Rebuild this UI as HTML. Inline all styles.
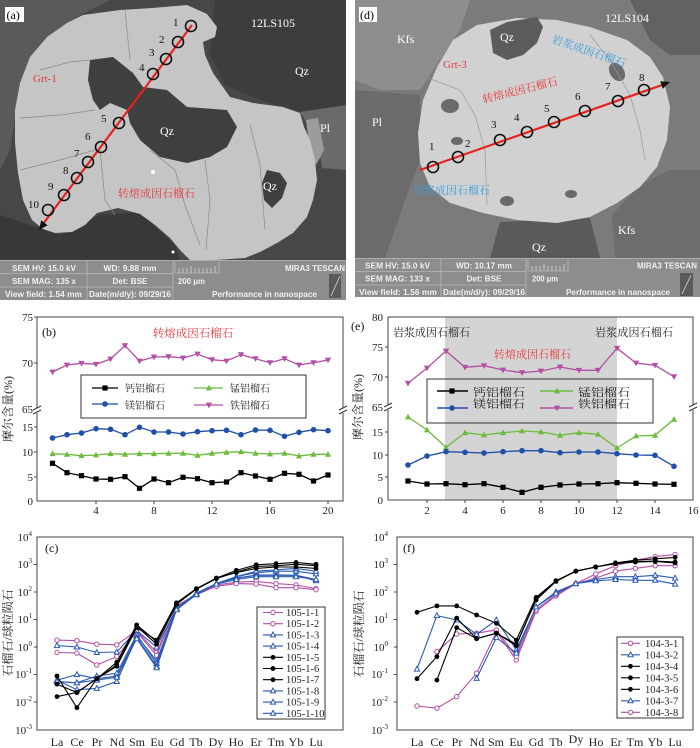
<!DOCTYPE html>
<html><head><meta charset="utf-8"><style>
html,body{margin:0;padding:0;background:#fff}
svg{display:block}
.ser{font-family:"Liberation Serif","Noto Serif CJK SC",serif}
.ib{font-family:"Liberation Sans",sans-serif;font-weight:bold;font-size:8px;fill:#f2f2f2}
.pl{fill:none}
</style></head><body>
<svg width="700" height="748" viewBox="0 0 700 748" xmlns="http://www.w3.org/2000/svg">
<defs>
<marker id="mSq" viewBox="-4 -4 8 8" markerWidth="8" markerHeight="8" refX="0" refY="0" markerUnits="userSpaceOnUse" orient="0"><rect x="-2.6" y="-2.6" width="5.2" height="5.2" fill="#000"/></marker>
<marker id="mCb" viewBox="-4 -4 8 8" markerWidth="8" markerHeight="8" refX="0" refY="0" markerUnits="userSpaceOnUse" orient="0"><circle r="2.8" fill="#1f4fa8"/></marker>
<marker id="mTg" viewBox="-4 -4 8 8" markerWidth="8" markerHeight="8" refX="0" refY="0" markerUnits="userSpaceOnUse" orient="0"><polygon points="0,-3.2 3.1,2.4 -3.1,2.4" fill="#6cbb3c"/></marker>
<marker id="mTm" viewBox="-4 -4 8 8" markerWidth="8" markerHeight="8" refX="0" refY="0" markerUnits="userSpaceOnUse" orient="0"><polygon points="0,3.2 3.2,-2.4 -3.2,-2.4" fill="#b34fa5"/></marker>
<marker id="mOc" viewBox="-4 -4 8 8" markerWidth="8" markerHeight="8" refX="0" refY="0" markerUnits="userSpaceOnUse" orient="0"><circle r="2.2" fill="#fff" stroke="#b34fa5" stroke-width="1"/></marker>
<marker id="mOt" viewBox="-4 -4 8 8" markerWidth="8" markerHeight="8" refX="0" refY="0" markerUnits="userSpaceOnUse" orient="0"><polygon points="0,-2.8 2.6,2 -2.6,2" fill="#fff" stroke="#2a5ab5" stroke-width="1"/></marker>
<marker id="mBc" viewBox="-4 -4 8 8" markerWidth="8" markerHeight="8" refX="0" refY="0" markerUnits="userSpaceOnUse" orient="0"><circle r="2.4" fill="#000"/></marker>
<clipPath id="cpA"><rect x="0" y="0" width="346" height="300"/></clipPath>
<clipPath id="cpD"><rect x="355" y="0" width="345" height="297"/></clipPath>
</defs>

<!-- ================= PANEL (a) ================= -->
<g clip-path="url(#cpA)">
<rect x="0" y="0" width="346" height="300" fill="#474747"/>
<polygon points="0,0 110,0 80,15 40,45 20,85 10,150 0,170" fill="#5a5a5a"/>
<polygon points="215,0 346,0 346,110 300,112 260,100 225,85 210,55 212,30" fill="#3d3d3d"/>
<polygon points="300,112 346,105 346,170 322,168 318,140" fill="#6a6a6a"/>
<polygon points="306,120 318,118 324,150 316,165 310,150" fill="#9c9c9c"/>
<polygon points="0,215 60,235 100,215 140,212 175,245 180,260 0,260" fill="#383838"/>
<polygon points="83,15 120,10 152,8 187,5 207,14 217,27 215,37 203,42 205,55 213,73 230,97 253,103 283,107 300,113 304,127 310,140 315,160 317,180 313,200 307,217 293,233 277,243 260,252 245,258 215,260 190,260 180,250 170,238 155,225 140,214 118,208 97,213 85,225 72,232 55,233 43,229 32,220 23,200 18,173 15,143 15,110 20,83 30,57 47,37 67,23" fill="#c5c5c5"/>
<polygon points="90,60 113,57 133,73 143,87 167,90 187,107 227,110 237,127 227,147 210,157 187,163 160,157 140,140 130,123 127,110 110,103 100,110 93,100 88,80" fill="#3f3f3f"/>
<polygon points="267,170 280,173 287,183 282,198 272,208 264,200 262,183" fill="#3f3f3f"/>
<g stroke="#8a8a8a" stroke-width="0.7" fill="none">
<path d="M125,10 L130,60 M95,110 L60,115 L20,118 M100,150 L105,200 L115,215 M150,150 L175,170 L185,205 L200,245 M250,125 L260,165 L265,230 M205,160 L210,200 L206,250 M40,70 L70,62 L90,60 M20,170 L60,160 L95,150"/>
</g>
<circle cx="153" cy="172" r="2" fill="#fff"/>
<circle cx="173" cy="252" r="1.5" fill="#fff"/>
<line x1="192" y1="25" x2="43" y2="224" stroke="#e8211d" stroke-width="2.2"/>
<polygon points="39,230 47.6,225.2 41.2,220.4" fill="#111"/>
<g fill="none" stroke="#111" stroke-width="1.6">
<circle cx="191" cy="26" r="5.5"/><circle cx="178" cy="42" r="5.5"/><circle cx="166" cy="59" r="5.5"/><circle cx="153" cy="74" r="5.5"/><circle cx="119" cy="123" r="5.5"/><circle cx="101" cy="147" r="5.5"/><circle cx="88" cy="162" r="5.5"/><circle cx="77" cy="178" r="5.5"/><circle cx="64" cy="195" r="5.5"/><circle cx="48" cy="210" r="5.5"/>
</g>
<g class="ser" font-size="11" fill="#111">
<text x="173" y="26">1</text><text x="159" y="43">2</text><text x="149" y="56">3</text><text x="139" y="71">4</text><text x="101" y="122">5</text><text x="85" y="140">6</text><text x="74" y="157">7</text><text x="63" y="174">8</text><text x="48" y="190">9</text><text x="28" y="208">10</text>
</g>
<g class="ser" font-size="12" fill="#fff">
<text x="251" y="27">12LS105</text>
<text x="295" y="75">Qz</text>
<text x="160" y="135">Qz</text>
<text x="320" y="132">Pl</text>
<text x="263" y="190">Qz</text>
</g>
<text class="ser" x="33" y="82" font-size="11" fill="#e8383d">Grt-1</text>
<text class="ser" x="118" y="197" font-size="11" fill="#e8383d" textLength="77">转熔成因石榴石</text>
<rect x="5" y="7" width="19" height="15" fill="#fff"/>
<text class="ser" x="6.5" y="19" font-size="12" fill="#000">(a)</text>
<rect x="0" y="260" width="346" height="40" fill="#8d8d8d"/>
<g stroke="#b8b8b8" stroke-width="0.8" fill="none">
<line x1="0" y1="273.5" x2="173" y2="273.5"/><line x1="0" y1="287" x2="173" y2="287"/>
<line x1="87" y1="260" x2="87" y2="300"/><line x1="173" y1="260" x2="173" y2="300"/>
<line x1="0" y1="260.5" x2="346" y2="260.5"/>
<polyline points="175,262 175,273 219,273 219,262"/>
</g>
<g stroke="#e0e0e0" stroke-width="0.7">
<line x1="179" y1="268" x2="179" y2="273"/><line x1="183" y1="268" x2="183" y2="273"/><line x1="187" y1="268" x2="187" y2="273"/><line x1="191" y1="266" x2="191" y2="273"/><line x1="195" y1="268" x2="195" y2="273"/><line x1="199" y1="268" x2="199" y2="273"/><line x1="203" y1="268" x2="203" y2="273"/><line x1="207" y1="268" x2="207" y2="273"/><line x1="211" y1="268" x2="211" y2="273"/><line x1="215" y1="266" x2="215" y2="273"/>
</g>
<rect x="329" y="274" width="12" height="24" fill="#5a5a5a"/>
<line x1="331" y1="296" x2="340" y2="276" stroke="#ddd" stroke-width="0.8"/>
<g class="ib" text-anchor="middle">
<text x="44" y="271" textLength="64" lengthAdjust="spacingAndGlyphs">SEM HV: 15.0 kV</text>
<text x="130" y="271" textLength="53" lengthAdjust="spacingAndGlyphs">WD: 9.88 mm</text>
<text x="44" y="284" textLength="64" lengthAdjust="spacingAndGlyphs">SEM MAG: 135 x</text>
<text x="130" y="284" textLength="35" lengthAdjust="spacingAndGlyphs">Det: BSE</text>
<text x="43.5" y="297" textLength="77" lengthAdjust="spacingAndGlyphs">View field: 1.54 mm</text>
<text x="130" y="297" textLength="82" lengthAdjust="spacingAndGlyphs">Date(m/d/y): 09/29/16</text>
</g>
<text class="ib" x="178" y="284" textLength="27" lengthAdjust="spacingAndGlyphs">200 μm</text>
<text class="ib" x="345" y="271" text-anchor="end" textLength="60" lengthAdjust="spacingAndGlyphs">MIRA3 TESCAN</text>
<text class="ib" x="212" y="297" textLength="105" lengthAdjust="spacingAndGlyphs">Performance in nanospace</text>
</g>

<!-- ================= PANEL (d) ================= -->
<g clip-path="url(#cpD)">
<rect x="355" y="0" width="345" height="297" fill="#7b7b7b"/>
<polygon points="355,0 470,0 460,30 440,60 420,90 380,90 355,80" fill="#8e8e8e"/>
<polygon points="355,90 420,95 420,160 405,200 385,258 355,258" fill="#6b6b6b"/>
<polygon points="630,0 700,0 700,55 670,55 650,40" fill="#626262"/>
<polygon points="640,185 670,170 700,170 700,258 615,258 612,215" fill="#6d6d6d"/>
<polygon points="500,222 590,218 600,258 490,258" fill="#5a5a5a"/>
<polygon points="477,25 517,18 557,20 590,27 627,40 650,57 663,77 670,107 667,140 657,167 640,187 617,203 590,217 557,223 517,220 483,213 450,203 430,187 420,163 418,133 423,100 437,67 453,40" fill="#d1d1d1"/>
<polygon points="490,30 507,22 537,17 543,27 537,43 523,55 507,60 493,53" fill="#5c5c5c"/>
<ellipse cx="450" cy="106" rx="9" ry="7" fill="#6a6a6a"/>
<ellipse cx="457" cy="141" rx="6" ry="4" fill="#6a6a6a"/>
<ellipse cx="617" cy="72" rx="7" ry="10" transform="rotate(-35 617 72)" fill="#6a6a6a"/>
<ellipse cx="571" cy="194" rx="6" ry="4" fill="#6a6a6a"/>
<ellipse cx="507" cy="201" rx="7" ry="5" fill="#6a6a6a"/>
<g stroke="#9a9a9a" stroke-width="0.7" fill="none">
<path d="M428,78 L460,90 L475,115 L485,150 L487,205 M590,35 L610,60 L630,95 L640,130 L645,160"/>
</g>
<line x1="420" y1="170" x2="665" y2="84" stroke="#e8211d" stroke-width="2.2"/>
<polygon points="670,82 662.8,88.8 660.2,81.2" fill="#111"/>
<g fill="none" stroke="#111" stroke-width="1.6">
<circle cx="433" cy="167" r="5.5"/><circle cx="458" cy="157" r="5.5"/><circle cx="500" cy="140" r="5.5"/><circle cx="527" cy="132" r="5.5"/><circle cx="554" cy="122" r="5.5"/><circle cx="585" cy="111" r="5.5"/><circle cx="618" cy="101" r="5.5"/><circle cx="644" cy="90" r="5.5"/>
</g>
<g class="ser" font-size="11" fill="#111">
<text x="429" y="150">1</text><text x="465" y="147">2</text><text x="491" y="128">3</text><text x="514" y="121">4</text><text x="544" y="112">5</text><text x="575" y="100">6</text><text x="605" y="90">7</text><text x="639" y="81">8</text>
</g>
<g class="ser" font-size="12" fill="#fff">
<text x="605" y="22">12LS104</text>
<text x="397" y="43">Kfs</text>
<text x="500" y="41">Qz</text>
<text x="372" y="126">Pl</text>
<text x="618" y="234">Kfs</text>
<text x="532" y="251">Qz</text>
</g>
<text class="ser" x="443" y="68" font-size="11" fill="#e8383d">Grt-3</text>
<text class="ser" x="520" y="94" font-size="11" fill="#e8383d" text-anchor="middle" transform="rotate(-14 520 90)">转熔成因石榴石</text>
<text class="ser" x="589" y="55" font-size="11" fill="#3a9fe0" text-anchor="middle" transform="rotate(19 589 51)">岩浆成因石榴石</text>
<text class="ser" x="413" y="194" font-size="11" fill="#3a9fe0" textLength="77">岩浆成因石榴石</text>
<rect x="359" y="7" width="18" height="15" fill="#fff"/>
<text class="ser" x="360" y="19" font-size="12" fill="#000">(d)</text>
<rect x="355" y="258" width="345" height="39" fill="#8d8d8d"/>
<g stroke="#b8b8b8" stroke-width="0.8" fill="none">
<line x1="355" y1="271.5" x2="526" y2="271.5"/><line x1="355" y1="285" x2="526" y2="285"/>
<line x1="441" y1="258" x2="441" y2="297"/><line x1="526" y1="258" x2="526" y2="297"/>
<line x1="355" y1="258.5" x2="700" y2="258.5"/>
<polyline points="528,260 528,271 568,271 568,260"/>
</g>
<g stroke="#e0e0e0" stroke-width="0.7">
<line x1="532" y1="266" x2="532" y2="271"/><line x1="536" y1="266" x2="536" y2="271"/><line x1="540" y1="266" x2="540" y2="271"/><line x1="544" y1="264" x2="544" y2="271"/><line x1="548" y1="266" x2="548" y2="271"/><line x1="552" y1="266" x2="552" y2="271"/><line x1="556" y1="266" x2="556" y2="271"/><line x1="560" y1="266" x2="560" y2="271"/><line x1="564" y1="264" x2="564" y2="271"/>
</g>
<rect x="680" y="273" width="13" height="23" fill="#5a5a5a"/>
<line x1="682" y1="294" x2="691" y2="275" stroke="#ddd" stroke-width="0.8"/>
<g class="ib" text-anchor="middle">
<text x="397.5" y="268.5" textLength="65" lengthAdjust="spacingAndGlyphs">SEM HV: 15.0 kV</text>
<text x="484" y="268.5" textLength="56" lengthAdjust="spacingAndGlyphs">WD: 10.17 mm</text>
<text x="397.5" y="281.5" textLength="65" lengthAdjust="spacingAndGlyphs">SEM MAG: 133 x</text>
<text x="484" y="281.5" textLength="35" lengthAdjust="spacingAndGlyphs">Det: BSE</text>
<text x="398" y="295" textLength="78" lengthAdjust="spacingAndGlyphs">View field: 1.56 mm</text>
<text x="484" y="295" textLength="82" lengthAdjust="spacingAndGlyphs">Date(m/d/y): 09/29/16</text>
</g>
<text class="ib" x="532" y="281.5" textLength="26" lengthAdjust="spacingAndGlyphs">200 μm</text>
<text class="ib" x="697" y="268.5" text-anchor="end" textLength="60" lengthAdjust="spacingAndGlyphs">MIRA3 TESCAN</text>
<text class="ib" x="566" y="295" textLength="104" lengthAdjust="spacingAndGlyphs">Performance in nanospace</text>
</g>

<!-- ================= CHART (b) ================= -->
<g class="ser">
<rect x="37" y="317" width="306" height="184" fill="none" stroke="#444" stroke-width="1"/>
<g stroke="#444" stroke-width="1">
<line x1="34" y1="317" x2="37" y2="317"/><line x1="34" y1="363" x2="37" y2="363"/><line x1="34" y1="427" x2="37" y2="427"/><line x1="34" y1="452" x2="37" y2="452"/><line x1="34" y1="477" x2="37" y2="477"/>
<line x1="96" y1="501" x2="96" y2="504"/><line x1="154" y1="501" x2="154" y2="504"/><line x1="212" y1="501" x2="212" y2="504"/><line x1="270" y1="501" x2="270" y2="504"/><line x1="328" y1="501" x2="328" y2="504"/>
</g>
<rect x="33" y="408" width="8" height="5" fill="#fff"/>
<rect x="339" y="408" width="8" height="5" fill="#fff"/>
<g stroke="#333" stroke-width="1">
<line x1="33" y1="410" x2="41" y2="406"/><line x1="33" y1="414" x2="41" y2="410"/>
<line x1="339" y1="410" x2="347" y2="406"/><line x1="339" y1="414" x2="347" y2="410"/>
</g>
<g font-size="11" fill="#222" text-anchor="end">
<text x="33" y="321">75</text><text x="33" y="367">70</text><text x="33" y="413">65</text><text x="33" y="431">15</text><text x="33" y="456">10</text><text x="33" y="481">5</text><text x="33" y="505">0</text>
</g>
<g font-size="11" fill="#222" text-anchor="middle">
<text x="96" y="514">4</text><text x="154" y="514">8</text><text x="212" y="514">12</text><text x="270" y="514">16</text><text x="328" y="514">20</text>
</g>
<text x="42" y="336" font-size="12" fill="#111">(b)</text>
<text x="193" y="337" font-size="11.5" fill="#e8383d" text-anchor="middle">转熔成因石榴石</text>
<text transform="translate(12,409) rotate(-90)" font-size="12" fill="#222" text-anchor="middle">摩尔含量(%)</text>
<polyline class="pl" stroke="#b34fa5" stroke-width="1.3" marker-start="url(#mTm)" marker-mid="url(#mTm)" marker-end="url(#mTm)" points="52.5,372 67,365 81.5,363.3 96,364.3 110.5,359 125,345.7 139.5,361 154,357 168.5,356.7 183,358 197.5,354 212,359.7 226.5,361 241,354.7 255.5,358.7 270,362.7 284.5,358.7 299,365 313.5,362.7 328,360"/>
<polyline class="pl" stroke="#1f4fa8" stroke-width="1.3" marker-start="url(#mCb)" marker-mid="url(#mCb)" marker-end="url(#mCb)" points="52.5,438 67,434.7 81.5,433 96,428.7 110.5,429.3 125,434.7 139.5,427.3 154,432 168.5,432 183,434 197.5,431.7 212,430.7 226.5,430.3 241,434.7 255.5,430 270,430.3 284.5,436.3 299,432.3 313.5,429.7 328,430.7"/>
<polyline class="pl" stroke="#6cbb3c" stroke-width="1.3" marker-start="url(#mTg)" marker-mid="url(#mTg)" marker-end="url(#mTg)" points="52.5,453.7 67,454.3 81.5,455.7 96,455 110.5,453.7 125,454.3 139.5,453.7 154,453.7 168.5,453.3 183,453.3 197.5,455.3 212,453.3 226.5,452.3 241,451.7 255.5,453.3 270,454 284.5,453.3 299,456 313.5,454.3 328,454.3"/>
<polyline class="pl" stroke="#000" stroke-width="1.3" marker-start="url(#mSq)" marker-mid="url(#mSq)" marker-end="url(#mSq)" points="52.5,463.3 67,472.7 81.5,475.7 96,479 110.5,479.3 125,476.7 139.5,488.3 154,479 168.5,482.7 183,477.3 197.5,478.7 212,482.7 226.5,482 241,472.7 255.5,476 270,479.3 284.5,473.3 299,474.3 313.5,481 328,475"/>
<rect x="81" y="375" width="225" height="43" fill="none" stroke="#333" stroke-width="1"/>
<polyline class="pl" stroke="#000" stroke-width="1.3" marker-mid="url(#mSq)" points="92,388 105,388 118,388"/>
<polyline class="pl" stroke="#1f4fa8" stroke-width="1.3" marker-mid="url(#mCb)" points="92,404 105,404 118,404"/>
<polyline class="pl" stroke="#6cbb3c" stroke-width="1.3" marker-mid="url(#mTg)" points="194,388 209,388 223,388"/>
<polyline class="pl" stroke="#b34fa5" stroke-width="1.3" marker-mid="url(#mTm)" points="194,405 209,405 223,405"/>
<g font-size="10" fill="#222">
<text x="125" y="392">钙铝榴石</text><text x="125" y="409">镁铝榴石</text>
<text x="230" y="392">锰铝榴石</text><text x="230" y="409">铁铝榴石</text>
</g>
</g>

<!-- ================= CHART (e) ================= -->
<g class="ser">
<rect x="445" y="317" width="172" height="183" fill="#d4d4d4"/>
<rect x="388" y="317" width="305" height="183" fill="none" stroke="#444" stroke-width="1"/>
<g stroke="#444" stroke-width="1">
<line x1="385" y1="347" x2="388" y2="347"/><line x1="385" y1="377" x2="388" y2="377"/><line x1="385" y1="432" x2="388" y2="432"/><line x1="385" y1="455" x2="388" y2="455"/><line x1="385" y1="477" x2="388" y2="477"/>
<line x1="427" y1="500" x2="427" y2="503"/><line x1="465" y1="500" x2="465" y2="503"/><line x1="503" y1="500" x2="503" y2="503"/><line x1="541" y1="500" x2="541" y2="503"/><line x1="579" y1="500" x2="579" y2="503"/><line x1="617" y1="500" x2="617" y2="503"/><line x1="655" y1="500" x2="655" y2="503"/>
</g>
<rect x="384" y="405" width="8" height="5" fill="#fff"/>
<rect x="689" y="405" width="8" height="5" fill="#fff"/>
<g stroke="#333" stroke-width="1">
<line x1="384" y1="407" x2="392" y2="403"/><line x1="384" y1="411" x2="392" y2="407"/>
<line x1="689" y1="407" x2="697" y2="403"/><line x1="689" y1="411" x2="697" y2="407"/>
</g>
<g font-size="11" fill="#222" text-anchor="end">
<text x="383" y="321">80</text><text x="383" y="351">75</text><text x="383" y="381">70</text><text x="383" y="411">65</text><text x="383" y="436">15</text><text x="383" y="459">10</text><text x="383" y="481">5</text><text x="383" y="504">0</text>
</g>
<g font-size="11" fill="#222" text-anchor="middle">
<text x="427" y="514">2</text><text x="465" y="514">4</text><text x="503" y="514">6</text><text x="541" y="514">8</text><text x="579" y="514">10</text><text x="617" y="514">12</text><text x="655" y="514">14</text><text x="693" y="514">16</text>
</g>
<text x="351" y="330" font-size="12" fill="#111">(e)</text>
<text x="393" y="336" font-size="11" fill="#222" textLength="77">岩浆成因石榴石</text>
<text x="595" y="336" font-size="11" fill="#222" textLength="78">岩浆成因石榴石</text>
<text x="494" y="358" font-size="11" fill="#e8383d" textLength="77">转熔成因石榴石</text>
<text transform="translate(362,407) rotate(-90)" font-size="12" fill="#222" text-anchor="middle">摩尔含量(%)</text>
<polyline class="pl" stroke="#b34fa5" stroke-width="1.3" marker-start="url(#mTm)" marker-mid="url(#mTm)" marker-end="url(#mTm)" points="408,383.3 427,368 446,351 465,367.3 484,365.7 503,370 522,372.7 541,371 560,367 579,370.3 598,370.3 617,348.3 636,363 655,365.3 674,376.7"/>
<polyline class="pl" stroke="#6cbb3c" stroke-width="1.3" marker-start="url(#mTg)" marker-mid="url(#mTg)" marker-end="url(#mTg)" points="408,417 427,430 446,447.3 465,432.7 484,435 503,432.7 522,431 541,432 560,435.3 579,432.7 598,434.3 617,448 636,436 655,435.3 674,419.3"/>
<polyline class="pl" stroke="#1f4fa8" stroke-width="1.3" marker-start="url(#mCb)" marker-mid="url(#mCb)" marker-end="url(#mCb)" points="408,465 427,456 446,451.7 465,452.3 484,453 503,451.7 522,450.7 541,450.7 560,452.7 579,452 598,452 617,453.7 636,455 655,455.3 674,466.3"/>
<polyline class="pl" stroke="#000" stroke-width="1.3" marker-start="url(#mSq)" marker-mid="url(#mSq)" marker-end="url(#mSq)" points="408,481 427,484 446,483.7 465,484.7 484,483.7 503,487.3 522,492.3 541,487.3 560,485 579,484 598,483.7 617,482.7 636,483.3 655,484 674,484.3"/>
<rect x="427" y="379" width="226" height="44" fill="none" stroke="#333" stroke-width="1"/>
<polyline class="pl" stroke="#000" stroke-width="1.5" marker-mid="url(#mSq)" points="437,391 452,391 468,391"/>
<polyline class="pl" stroke="#1f4fa8" stroke-width="1.5" marker-mid="url(#mCb)" points="437,408 452,408 468,408"/>
<polyline class="pl" stroke="#6cbb3c" stroke-width="1.5" marker-mid="url(#mTg)" points="540,391 557,391 573,391"/>
<polyline class="pl" stroke="#b34fa5" stroke-width="1.5" marker-mid="url(#mTm)" points="540,408 557,408 573,408"/>
<g font-size="11" fill="#222">
<text x="473" y="396" textLength="52" lengthAdjust="spacingAndGlyphs">钙铝榴石</text><text x="473" y="407.5" textLength="52" lengthAdjust="spacingAndGlyphs">镁铝榴石</text>
<text x="578" y="396" textLength="52" lengthAdjust="spacingAndGlyphs">锰铝榴石</text><text x="578" y="407.5" textLength="52" lengthAdjust="spacingAndGlyphs">铁铝榴石</text>
</g>
</g>

<!-- ================= CHART (c) ================= -->
<g class="ser">
<rect x="37" y="537" width="306" height="193" fill="none" stroke="#444" stroke-width="1"/>
<g stroke="#444" stroke-width="1">
<line x1="34" y1="564.5" x2="37" y2="564.5"/><line x1="34" y1="592" x2="37" y2="592"/><line x1="34" y1="619.5" x2="37" y2="619.5"/><line x1="34" y1="647" x2="37" y2="647"/><line x1="34" y1="674.5" x2="37" y2="674.5"/><line x1="34" y1="702" x2="37" y2="702"/>
</g>
<g font-size="11" fill="#222" text-anchor="end">
<text x="32" y="541">10<tspan font-size="7" dy="-5">4</tspan></text>
<text x="32" y="568">10<tspan font-size="7" dy="-5">3</tspan></text>
<text x="32" y="596">10<tspan font-size="7" dy="-5">2</tspan></text>
<text x="32" y="623">10<tspan font-size="7" dy="-5">1</tspan></text>
<text x="32" y="651">10<tspan font-size="7" dy="-5">0</tspan></text>
<text x="32" y="678">10<tspan font-size="7" dy="-5">-1</tspan></text>
<text x="32" y="706">10<tspan font-size="7" dy="-5">-2</tspan></text>
<text x="32" y="734">10<tspan font-size="7" dy="-5">-3</tspan></text>
</g>
<g font-size="12" fill="#222" text-anchor="middle">
<text x="57" y="746">La</text><text x="77" y="746">Ce</text><text x="97" y="746">Pr</text><text x="117" y="746">Nd</text><text x="137" y="746">Sm</text><text x="157" y="746">Eu</text><text x="177" y="746">Gd</text><text x="196" y="746">Tb</text><text x="216" y="746">Dy</text><text x="236" y="746">Ho</text><text x="256" y="746">Er</text><text x="276" y="746">Tm</text><text x="296" y="746">Yb</text><text x="316" y="746">Lu</text>
</g>
<text x="45" y="552" font-size="12" fill="#111">(c)</text>
<text transform="translate(12,633) rotate(-90)" font-size="12" fill="#222" text-anchor="middle">石榴石/球粒陨石</text>
<g stroke-width="1.1">
<polyline class="pl" stroke="#b34fa5" marker-start="url(#mOc)" marker-mid="url(#mOc)" marker-end="url(#mOc)" points="57,640.1 76.9,640.7 96.8,644.2 116.8,644.8 136.7,630.5 156.6,652.5 176.5,605.6 196.4,594.6 216.4,585 236.3,582.2 256.2,581.4 276.1,583.6 296,585 316,588.6"/>
<polyline class="pl" stroke="#b34fa5" marker-start="url(#mOc)" marker-mid="url(#mOc)" marker-end="url(#mOc)" points="57,652.5 76.9,653.1 96.8,664.9 116.8,656.6 136.7,631.8 156.6,655.3 176.5,607 196.4,594.6 216.4,586.3 236.3,583.6 256.2,584.1 276.1,587.7 296,587.7 316,589.7"/>
<polyline class="pl" stroke="#2a5ab5" marker-start="url(#mOt)" marker-mid="url(#mOt)" marker-end="url(#mOt)" points="57,645.6 76.9,647 96.8,652.5 116.8,652 136.7,630.5 156.6,647 176.5,608.4 196.4,593.2 216.4,583.6 236.3,578.1 256.2,575.3 276.1,574.8 296,575.3 316,579.5"/>
<polyline class="pl" stroke="#2a5ab5" marker-start="url(#mOt)" marker-mid="url(#mOt)" marker-end="url(#mOt)" points="57,680.1 76.9,674.6 96.8,678.7 116.8,676 136.7,636 156.6,660.8 176.5,608.4 196.4,594.6 216.4,583.6 236.3,576.7 256.2,572.6 276.1,571.2 296,571.2 316,573.9"/>
<polyline class="pl" stroke="#2a5ab5" marker-start="url(#mOt)" marker-mid="url(#mOt)" marker-end="url(#mOt)" points="57,681.5 76.9,682.8 96.8,676 116.8,673.2 136.7,634.6 156.6,663.5 176.5,608.4 196.4,593.2 216.4,583.6 236.3,576.7 256.2,571.2 276.1,569.8 296,568.4 316,571.2"/>
<polyline class="pl" stroke="#2a5ab5" marker-start="url(#mOt)" marker-mid="url(#mOt)" marker-end="url(#mOt)" points="57,680.1 76.9,689.7 96.8,688.4 116.8,681.5 136.7,637.4 156.6,666.3 176.5,609 196.4,594.6 216.4,583.6 236.3,578.1 256.2,575.3 276.1,575.3 296,575.3 316,580.8"/>
<polyline class="pl" stroke="#2a5ab5" marker-start="url(#mOt)" marker-mid="url(#mOt)" marker-end="url(#mOt)" points="57,681.5 76.9,682.8 96.8,680.1 116.8,677.3 136.7,638.7 156.6,667.7 176.5,609.8 196.4,594.6 216.4,584.1 236.3,579.5 256.2,576.7 276.1,576.7 296,576.7 316,579.5"/>
<polyline class="pl" stroke="#000" marker-start="url(#mBc)" marker-mid="url(#mBc)" marker-end="url(#mBc)" points="57,676 76.9,707.7 96.8,678.7 116.8,662.2 136.7,624.9 156.6,641.5 176.5,602.9 196.4,588.6 216.4,578.1 236.3,570.4 256.2,564.8 276.1,563.7 296,562.4 316,564.3"/>
<polyline class="pl" stroke="#000" marker-start="url(#mBc)" marker-mid="url(#mBc)" marker-end="url(#mBc)" points="57,684.2 76.9,692.5 96.8,678.7 116.8,664.9 136.7,626.3 156.6,644.2 176.5,604.3 196.4,589.1 216.4,578.6 236.3,572 256.2,566.5 276.1,565.7 296,564.3 316,565.7"/>
<polyline class="pl" stroke="#000" marker-start="url(#mBc)" marker-mid="url(#mBc)" marker-end="url(#mBc)" points="57,696.6 76.9,692.5 96.8,678.7 116.8,666.3 136.7,627.7 156.6,640.1 176.5,602.9 196.4,589.1 216.4,578.1 236.3,572.6 256.2,568.4 276.1,567 296,567 316,568.4"/>
</g>
<rect x="257" y="607" width="68" height="112" fill="#fff" stroke="#333" stroke-width="1"/>
<g stroke-width="1.1">
<polyline class="pl" stroke="#b34fa5" marker-mid="url(#mOc)" points="263,612.5 273,612.5 283,612.5"/>
<polyline class="pl" stroke="#b34fa5" marker-mid="url(#mOc)" points="263,623.7 273,623.7 283,623.7"/>
<polyline class="pl" stroke="#2a5ab5" marker-mid="url(#mOt)" points="263,634.9 273,634.9 283,634.9"/>
<polyline class="pl" stroke="#2a5ab5" marker-mid="url(#mOt)" points="263,646.1 273,646.1 283,646.1"/>
<polyline class="pl" stroke="#000" marker-mid="url(#mBc)" points="263,657.3 273,657.3 283,657.3"/>
<polyline class="pl" stroke="#000" marker-mid="url(#mBc)" points="263,668.5 273,668.5 283,668.5"/>
<polyline class="pl" stroke="#000" marker-mid="url(#mBc)" points="263,679.7 273,679.7 283,679.7"/>
<polyline class="pl" stroke="#2a5ab5" marker-mid="url(#mOt)" points="263,690.9 273,690.9 283,690.9"/>
<polyline class="pl" stroke="#2a5ab5" marker-mid="url(#mOt)" points="263,702.1 273,702.1 283,702.1"/>
<polyline class="pl" stroke="#2a5ab5" marker-mid="url(#mOt)" points="263,713.3 273,713.3 283,713.3"/>
</g>
<g font-size="10.5" fill="#222">
<text x="286" y="616">105-1-1</text><text x="286" y="627.2">105-1-2</text><text x="286" y="638.4">105-1-3</text><text x="286" y="649.6">105-1-4</text><text x="286" y="660.8">105-1-5</text><text x="286" y="672">105-1-6</text><text x="286" y="683.2">105-1-7</text><text x="286" y="694.4">105-1-8</text><text x="286" y="705.6">105-1-9</text><text x="286" y="716.8">105-1-10</text>
</g>
</g>

<!-- ================= CHART (f) ================= -->
<g class="ser">
<rect x="397" y="537" width="296" height="193" fill="none" stroke="#444" stroke-width="1"/>
<g stroke="#444" stroke-width="1">
<line x1="394" y1="564.5" x2="397" y2="564.5"/><line x1="394" y1="592" x2="397" y2="592"/><line x1="394" y1="619.5" x2="397" y2="619.5"/><line x1="394" y1="647" x2="397" y2="647"/><line x1="394" y1="674.5" x2="397" y2="674.5"/><line x1="394" y1="702" x2="397" y2="702"/>
</g>
<g font-size="11" fill="#222" text-anchor="end">
<text x="388" y="541">10<tspan font-size="7" dy="-5">4</tspan></text>
<text x="388" y="568">10<tspan font-size="7" dy="-5">3</tspan></text>
<text x="388" y="596">10<tspan font-size="7" dy="-5">2</tspan></text>
<text x="388" y="623">10<tspan font-size="7" dy="-5">1</tspan></text>
<text x="388" y="651">10<tspan font-size="7" dy="-5">0</tspan></text>
<text x="388" y="678">10<tspan font-size="7" dy="-5">-1</tspan></text>
<text x="388" y="706">10<tspan font-size="7" dy="-5">-2</tspan></text>
<text x="388" y="734">10<tspan font-size="7" dy="-5">-3</tspan></text>
</g>
<g font-size="12" fill="#222" text-anchor="middle">
<text x="417" y="746">La</text><text x="437" y="746">Ce</text><text x="457" y="746">Pr</text><text x="477" y="746">Nd</text><text x="496" y="746">Sm</text><text x="516" y="746">Eu</text><text x="536" y="746">Gd</text><text x="556" y="746">Tb</text><text x="576" y="743">Dy</text><text x="596" y="746">Ho</text><text x="616" y="746">Er</text><text x="635" y="746">Tm</text><text x="655" y="746">Yb</text><text x="675" y="746">Lu</text>
</g>
<text x="403" y="552" font-size="12" fill="#111">(f)</text>
<text transform="translate(363,634) rotate(-90)" font-size="12" fill="#222" text-anchor="middle">石榴石/球粒陨石</text>
<g stroke-width="1.1">
<polyline class="pl" stroke="#b34fa5" marker-start="url(#mOc)" marker-mid="url(#mOc)" marker-end="url(#mOc)" points="417,706 436.9,708.2 456.7,696.6 476.6,673.2 496.4,631.8 516.3,660 536.1,611.2 556,596 575.8,583.6 595.7,573.9 615.5,565.7 635.4,560.2 655.2,556.6 675.1,554.6"/>
<polyline class="pl" stroke="#b34fa5" marker-start="url(#mOc)" marker-mid="url(#mOc)" marker-end="url(#mOc)" points="436.9,651.7 456.7,634 476.6,633.2 496.4,629.9 516.3,656.6 536.1,609.8 556,594.6 575.8,583.6 595.7,578.1 615.5,571.2 635.4,568.4 655.2,565.7 675.1,565.7"/>
<polyline class="pl" stroke="#2a5ab5" marker-start="url(#mOt)" marker-mid="url(#mOt)" marker-end="url(#mOt)" points="417,669.1 436.9,615.6 456.7,620 476.6,634.3 496.4,620 516.3,649.8 536.1,607 556,591.9 575.8,583.6 595.7,579.5 615.5,576.7 635.4,576.7 655.2,575.3 675.1,578.1"/>
<polyline class="pl" stroke="#2a5ab5" marker-start="url(#mOt)" marker-mid="url(#mOt)" marker-end="url(#mOt)" points="476.6,678.4 496.4,637.6 516.3,653.1 536.1,607 556,593.2 575.8,583.6 595.7,580.8 615.5,579.5 635.4,580.3 655.2,580.3 675.1,584.1"/>
<polyline class="pl" stroke="#000" marker-start="url(#mBc)" marker-mid="url(#mBc)" marker-end="url(#mBc)" points="417,612.3 436.9,605.9 456.7,605.9 476.6,615 496.4,623.3 516.3,640.1 536.1,597.4 556,580.8 575.8,571.2 595.7,567 615.5,562.9 635.4,560.2 655.2,558.8 675.1,557.4"/>
<polyline class="pl" stroke="#000" marker-start="url(#mBc)" marker-mid="url(#mBc)" marker-end="url(#mBc)" points="417,678.7 436.9,656.6 456.7,618.1 476.6,638.7 496.4,633.2 516.3,645.6 536.1,598.8 556,580.8 575.8,571.2 595.7,567 615.5,562.9 635.4,561.5 655.2,561 675.1,562.1"/>
<polyline class="pl" stroke="#000" marker-start="url(#mBc)" marker-mid="url(#mBc)" marker-end="url(#mBc)" points="436.9,680.1 456.7,627.7 476.6,638.7 496.4,633.2 516.3,644.2 536.1,600.1 556,581.4 575.8,571.2 595.7,567 615.5,563.7 635.4,562.1 655.2,561.5 675.1,562.9"/>
</g>
<rect x="617" y="637" width="66" height="81" fill="#fff" stroke="#333" stroke-width="1"/>
<g stroke-width="1.1">
<polyline class="pl" stroke="#b34fa5" marker-mid="url(#mOc)" points="621,643.3 630.5,643.3 640,643.3"/>
<polyline class="pl" stroke="#2a5ab5" marker-mid="url(#mOt)" points="621,654.8 630.5,654.8 640,654.8"/>
<polyline class="pl" stroke="#000" marker-mid="url(#mBc)" points="621,666.3 630.5,666.3 640,666.3"/>
<polyline class="pl" stroke="#000" marker-mid="url(#mBc)" points="621,677.8 630.5,677.8 640,677.8"/>
<polyline class="pl" stroke="#000" marker-mid="url(#mBc)" points="621,689.3 630.5,689.3 640,689.3"/>
<polyline class="pl" stroke="#2a5ab5" marker-mid="url(#mOt)" points="621,700.8 630.5,700.8 640,700.8"/>
<polyline class="pl" stroke="#b34fa5" marker-mid="url(#mOc)" points="621,712.3 630.5,712.3 640,712.3"/>
</g>
<g font-size="10.5" fill="#222">
<text x="645" y="647">104-3-1</text><text x="645" y="658.5">104-3-2</text><text x="645" y="670">104-3-4</text><text x="645" y="681.5">104-3-5</text><text x="645" y="693">104-3-6</text><text x="645" y="704.5">104-3-7</text><text x="645" y="716">104-3-8</text>
</g>
</g>
</svg>
</body></html>
